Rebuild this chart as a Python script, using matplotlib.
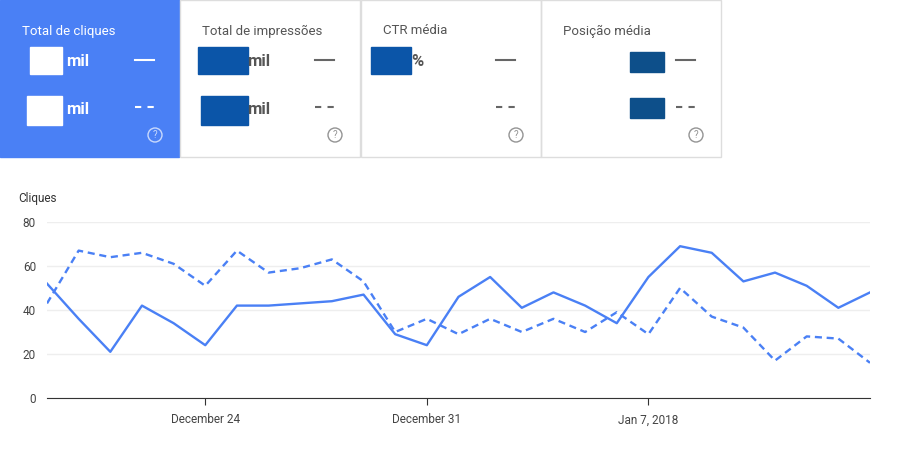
import numpy as np
import matplotlib.pyplot as plt
from matplotlib.patches import Rectangle
import datetime as dt

days = [dt.date(2017, 12, 19) + dt.timedelta(days=i) for i in range(27)]
cliques_atual = [52, 36, 21, 42, 34, 24, 42, 42, 43, 44, 47, 29, 24, 46, 55, 41, 48, 42, 34, 55, 69, 66, 53, 57, 51, 41, 48]
cliques_anterior = [43, 67, 64, 66, 61, 51, 67, 57, 59, 63, 53, 30, 36, 29, 36, 30, 36, 30, 39, 29, 50, 37, 32, 17, 28, 27, 16]
card_titles = ["Total de cliques", "Total de impressões", "CTR média", "Posição média"]
tick_days = [dt.date(2017, 12, 24), dt.date(2017, 12, 31), dt.date(2018, 1, 7)]
tick_labels = ["December 24", "December 31", "Jan 7, 2018"]

W, H = 910, 451
fig = plt.figure(figsize=(W / 100, H / 100), dpi=100)
plt.rcParams['font.family'] = ['Roboto', 'DejaVu Sans']

# cards on a pixel-coordinate overlay
ov = fig.add_axes([0, 0, 1, 1])
ov.set_xlim(0, W)
ov.set_ylim(H, 0)
ov.axis('off')
blue = '#4a80f5'
dark = '#0b55a8'
cards_x = [0, 180, 361, 541]
for i, t in enumerate(card_titles):
    x0 = cards_x[i]
    if i == 0:
        ov.add_patch(Rectangle((x0, 0), 179, 157, color=blue))
        tc, lc = 'white', 'white'
    else:
        ov.add_patch(Rectangle((x0, 0), 180, 157, fill=False, ec='#dddddd', lw=1))
        tc, lc = '#555555', '#666666'
    ov.text(x0 + 22, 31, t, color=tc, fontsize=9.5, va='center')
    ov.plot([x0 + 135, x0 + 154], [60, 60], color=lc, lw=1.5)
    ov.plot([x0 + 135, x0 + 154], [107, 107], color=lc, lw=1.5, ls=(0, (3, 3)))
    ov.add_patch(plt.Circle((x0 + 155, 135), 7, fill=False, ec=lc, lw=1, alpha=0.7))
    ov.text(x0 + 155, 135.5, '?', color=lc, fontsize=7, ha='center', va='center', alpha=0.7)
# redaction boxes
ov.add_patch(Rectangle((30, 47), 32, 27, color='white'))
ov.add_patch(Rectangle((27, 96), 35, 29, color='white'))
ov.text(66, 61, 'mil', color='white', fontsize=12, weight='bold', va='center')
ov.text(66, 109, 'mil', color='white', fontsize=12, weight='bold', va='center')
ov.add_patch(Rectangle((198, 47), 50, 27, color=dark))
ov.add_patch(Rectangle((201, 96), 47, 29, color=dark))
ov.text(247, 61, 'mil', color='#555555', fontsize=12, weight='bold', va='center')
ov.text(247, 109, 'mil', color='#555555', fontsize=12, weight='bold', va='center')
ov.add_patch(Rectangle((371, 47), 40, 27, color=dark))
ov.text(411, 61, '%', color='#555555', fontsize=12, weight='bold', va='center')
ov.add_patch(Rectangle((630, 52), 34, 20, color='#0d4f8a'))
ov.add_patch(Rectangle((630, 98), 34, 20, color='#0d4f8a'))

ax = fig.add_axes([47 / W, 1 - 398 / H, (870 - 47) / W, (398 - 222) / H])
ax.plot(days, cliques_atual, color=blue, lw=1.7)
ax.plot(days, cliques_anterior, color=blue, lw=1.7, ls=(0, (3, 2)))
ax.set_ylim(0, 80)
ax.set_xlim(days[0] - dt.timedelta(days=0.25), days[-1] + dt.timedelta(days=0.4))
ax.set_yticks([0, 20, 40, 60, 80])
ax.set_xticks(tick_days)
ax.set_xticklabels(tick_labels)
ax.grid(axis='y', color='#eeeeee', lw=1)
for s in ['top', 'right', 'left']:
    ax.spines[s].set_visible(False)
ax.spines['bottom'].set_color('#333333')
ax.tick_params(axis='y', length=0, labelsize=8.5, colors='#444444', pad=8)
ax.tick_params(axis='x', length=5, labelsize=8.5, colors='#444444', pad=6)
ax.tick_params(axis='x', color='#333333')
fig.text(18 / W, 1 - 199 / H, 'Cliques', fontsize=8.5, color='#333333', va='center')

fig.savefig('out.png', dpi=100)
